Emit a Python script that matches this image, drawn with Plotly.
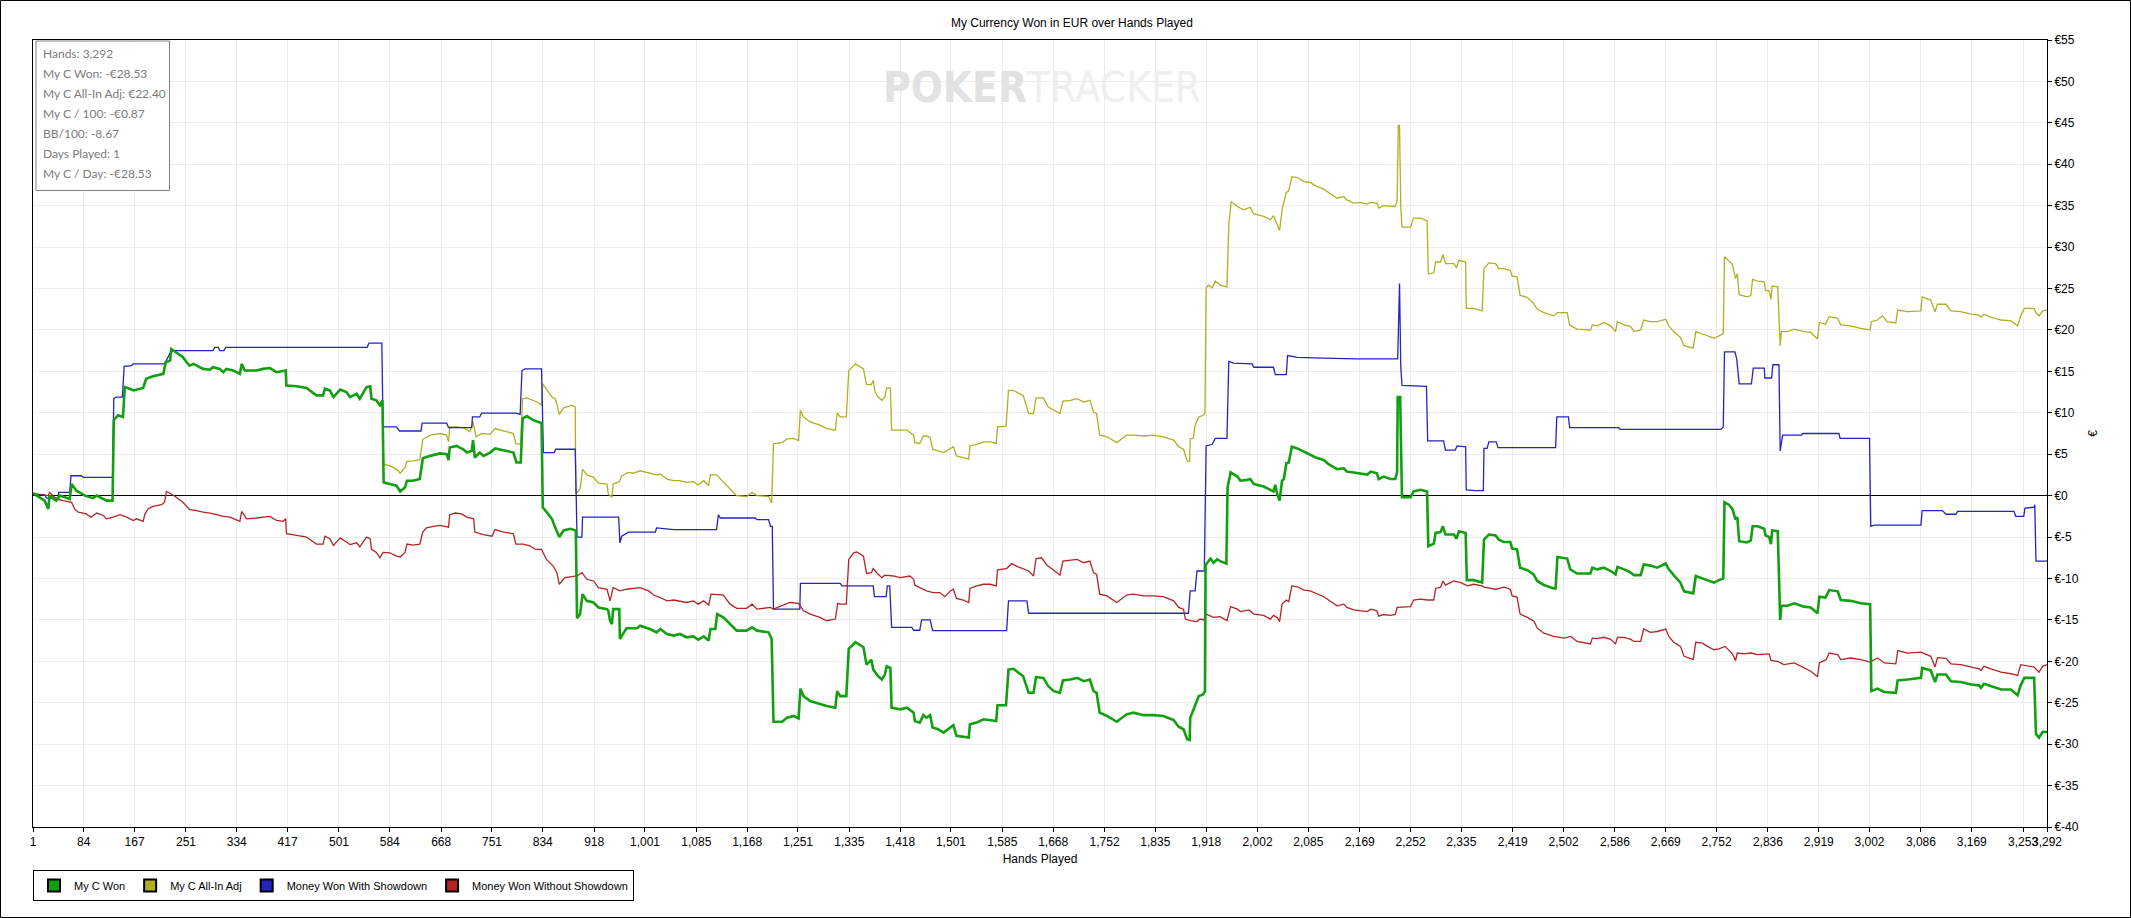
import plotly.graph_objects as go

# values (hand number, running EUR)
won_hands = [1, 20, 26, 28, 39, 45, 61, 64, 72, 86, 99, 105, 121, 131, 133, 140, 148, 151, 159, 165,
             181, 186, 197, 214, 218, 225, 227, 235, 246, 252, 257, 263, 279, 290, 295, 306, 312, 317, 328, 339,
             342, 347, 366, 377, 388, 399, 410, 414, 415, 432, 448, 464, 475, 478, 486, 492, 503, 513, 519, 530,
             535, 546, 552, 554, 562, 568, 572, 574, 584, 595, 601, 609, 612, 622, 633, 638, 650, 666,
             677, 680, 682, 693, 704, 710, 718, 720, 723, 731, 737, 748, 756, 764, 775, 786, 791, 798, 801, 808,
             819, 830, 832, 834, 840, 849, 854, 861, 868, 879, 888, 890, 895, 899, 906, 917, 925, 939, 941, 944,
             947, 949, 959, 960, 971, 988, 993, 1009, 1020, 1026, 1037, 1048, 1058, 1069, 1080, 1088, 1097, 1105,
             1108, 1116, 1119, 1129, 1140, 1151, 1167, 1176, 1184, 1203, 1208, 1211, 1225, 1233, 1244, 1252, 1255,
             1260, 1271, 1287, 1298, 1312, 1315, 1320, 1330, 1334, 1345,
             1358, 1363, 1371, 1374, 1382, 1388, 1393, 1396, 1402, 1404, 1418, 1429, 1440, 1442, 1450, 1456, 1461,
             1467, 1471, 1480, 1489, 1505, 1510, 1521, 1530, 1532, 1543, 1554, 1565, 1575, 1577, 1591, 1595, 1603,
             1619, 1628, 1636, 1640, 1652, 1660, 1669, 1679, 1684, 1696, 1707, 1718, 1728, 1734, 1739, 1744, 1756,
             1772, 1788, 1799, 1816, 1832, 1848, 1865, 1873, 1881, 1887, 1891, 1892, 1900, 1906, 1913, 1916,
             1917, 1925, 1930, 1936, 1941, 1951, 1953, 1958, 1969, 1974, 1985, 1990, 1996, 2012, 2023, 2028, 2031,
             2034, 2038, 2042, 2045, 2049, 2053, 2058, 2067, 2078, 2088, 2097, 2110, 2118, 2127, 2132, 2143, 2148,
             2159, 2170, 2181, 2187, 2197, 2200, 2208, 2219, 2227, 2230, 2231, 2235, 2237, 2238, 2252, 2257, 2268,
             2279, 2281, 2290, 2293, 2301, 2305, 2309, 2323, 2327, 2331, 2342, 2344, 2355, 2369, 2372, 2380, 2391,
             2396, 2404, 2415, 2418, 2426, 2431, 2443, 2453, 2459, 2470, 2486, 2489, 2492, 2508, 2513, 2524, 2546,
             2549, 2557, 2568, 2579, 2587, 2590, 2601, 2612, 2617,
             2628, 2633, 2644, 2655, 2669, 2674, 2682, 2693, 2699, 2707, 2714, 2718, 2729, 2737, 2748, 2756, 2763,
             2765, 2772, 2778, 2783, 2786, 2789, 2802, 2808, 2811, 2819, 2830, 2832, 2838, 2841, 2843, 2852, 2856,
             2858, 2868, 2879, 2895, 2906, 2917, 2920, 2930, 2936, 2950, 2955, 2971, 2988, 3003, 3005, 3015, 3026,
             3045, 3048, 3064, 3086, 3088, 3102, 3109, 3113, 3127, 3135, 3151, 3168, 3181, 3184, 3189, 3200, 3217,
             3233, 3244, 3249, 3255, 3271, 3274, 3279, 3285, 3292]
won_eur = [0.3, -0.6, -1.6, 0, -0.6, 0, -0.4, 1.4, 0.6, 0, -0.3, 0, -0.6, -0.6, 9.1, 9.7, 9.5, 13.1, 12.9, 12.7,
           13.0, 14.1, 14.4, 14.7, 16.1, 16.3, 17.7, 17.3, 16.7, 16.1, 15.7, 15.9, 15.3, 15.2, 15.5, 15.3, 14.9, 15.3, 15.1, 14.7,
           15.9, 15.1, 15.1, 15.3, 15.4, 14.9, 15.1, 15.1, 13.3, 13.2, 13.0, 12.1, 12.1, 12.9, 12.7, 11.9, 12.8, 12.5, 11.9, 12.3,
           11.7, 13.1, 13.2, 11.7, 11.5, 10.9, 11.5, 1.6, 1.4, 1.2, 0.5, 1.0, 1.8, 1.8, 2.0, 4.5, 4.8, 5.1,
           5.0, 4.3, 5.8, 6.0, 5.6, 5.2, 5.4, 6.7, 4.6, 5.2, 4.8, 5.2, 5.7, 5.6, 5.4, 5.2, 4.0, 4.0, 9.3, 9.6,
           9.1, 8.8, 8.8, -1.4, -2.0, -2.8, -3.8, -5.0, -4.2, -4.0, -4.2, -14.8, -14.3, -11.9, -12.7, -12.9, -13.5, -13.7, -13.9, -15.1,
           -15.5, -13.7, -13.7, -17.3, -16.0, -16.0, -15.7, -16.1, -16.5, -16.1, -16.7, -16.9, -16.7, -17.1, -17.0, -17.4, -17.0, -17.5,
           -16.1, -16.1, -14.3, -14.7, -15.5, -16.3, -16.3, -15.9, -16.3, -16.5, -17.3, -27.3, -27.3, -26.8, -26.6, -26.9, -23.3,
           -24.2, -24.8, -25.2, -25.4, -25.6, -23.6, -24.2, -24.2, -18.5, -17.7,
           -18.3, -20.4, -19.8, -21.0, -21.8, -22.2, -21.6, -20.6, -20.8, -25.6, -25.8, -25.6, -26.2, -27.2, -27.4, -26.5, -26.8,
           -26.5, -28.0, -28.2, -28.6, -27.7, -29.0, -29.1, -29.2, -27.6, -27.4, -27.0, -27.1, -27.2, -25.3, -25.3, -21.0, -20.9,
           -21.8, -23.8, -23.8, -21.9, -22.0, -23.0, -23.6, -23.8, -22.3, -22.2, -22.0, -22.4, -22.2, -23.6, -23.8, -26.2, -26.6,
           -27.3, -26.4, -26.2, -26.5, -26.5, -26.6, -27.1, -27.9, -28.2, -29.4, -29.5, -26.8, -25.2, -24.2, -24.0, -23.6,
           -8.4, -7.6, -8.1, -7.7, -7.9, -8.2, 1.0, 2.8, 2.3, 1.8, 1.9, 2.0, 1.4, 1.1, 0.7, 0.5, 1.3,
           0.2, -0.6, 1.8, 2.0, 3.9, 4.0, 5.9, 5.7, 5.3, 4.9, 4.6, 4.3, 3.8, 3.4, 3.2, 3.3, 2.9,
           2.8, 2.7, 2.55, 2.9, 2.7, 2.0, 2.3, 2.0, 2.0, 2.8, 11.9, 11.9, 1.8, -0.2, -0.2, 0.5, 0.7,
           0.5, -6.1, -5.8, -4.5, -4.4, -3.7, -4.7, -4.7, -5.2, -4.3, -4.5, -10.2, -10.2, -10.5, -5.3, -4.7, -4.8,
           -5.3, -5.6, -5.6, -6.4, -6.5, -8.7, -9.0, -9.5, -10.3, -10.8, -11.2, -11.2, -7.4, -7.6, -8.9, -9.4, -9.4,
           -8.7, -8.9, -8.7, -9.1, -9.5, -8.6, -8.9, -9.3, -9.6,
           -9.6, -8.3, -8.45, -8.7, -8.2, -8.9, -9.6, -10.5, -11.55, -11.7, -11.8, -9.7, -10.0, -10.2, -10.5, -10.2, -10.0,
           -0.8, -1.1, -1.6, -2.9, -2.6, -5.5, -5.65, -5.4, -3.7, -3.7, -4.0, -4.8, -5.0, -5.85, -4.2, -4.3, -15.0,
           -13.3, -13.3, -13.0, -13.4, -13.5, -14.2, -12.2, -12.3, -11.4, -11.55, -12.6, -12.7, -13.0, -13.1, -23.6, -23.3, -23.7,
           -23.8, -22.3, -22.2, -22.0, -20.8, -21.1, -22.5, -21.6, -21.6, -22.4, -22.5, -22.8, -22.9, -23.2, -22.7, -23.0, -23.4,
           -23.4, -24.1, -22.9, -22.0, -22.0, -28.8, -29.2, -28.5, -28.53]

# all-in adjusted line sits under "My C Won" until the first all-in (hand ~574)
n_same = won_hands.index(572) + 1
allin_hands = won_hands[:n_same] + [
    574, 584, 595, 601, 609, 612, 622, 633, 638, 650, 666, 677, 680, 682, 693, 704, 715, 720, 725, 734,
    748, 756, 775, 786, 790, 798, 801, 808, 824, 832, 834, 840, 849, 854, 857, 861, 868, 881, 887, 888,
    895, 899, 906, 917, 925, 939, 941, 947, 949, 959, 963, 974, 982, 993, 1009, 1020, 1026, 1037, 1048, 1058,
    1069, 1080, 1088, 1097, 1105, 1108, 1118, 1129, 1140, 1151, 1167, 1176, 1184, 1203, 1208, 1211, 1225, 1233, 1244, 1252,
    1255, 1260, 1271, 1287, 1298, 1312, 1315, 1320, 1330, 1334, 1345, 1358, 1363, 1371, 1374, 1377, 1382, 1388, 1393, 1396,
    1402, 1404, 1418, 1429, 1440, 1442, 1450, 1456, 1461, 1467, 1471, 1480, 1489, 1505, 1510, 1521, 1530, 1532, 1543, 1554,
    1565, 1575, 1577, 1591, 1595, 1603, 1619, 1628, 1636, 1640, 1652, 1660, 1669, 1679, 1684, 1696, 1707, 1718, 1728, 1734,
    1739, 1744, 1756, 1772, 1788, 1799, 1816, 1832, 1848, 1865, 1873, 1881, 1887, 1891, 1892, 1897, 1900, 1906, 1913, 1916,
    1918, 1922, 1928, 1933, 1941, 1952, 1955, 1959, 1969, 1979, 1990, 1996, 2012, 2023, 2028, 2034, 2038, 2042, 2049, 2053,
    2058, 2067, 2078, 2088, 2097, 2110, 2118, 2127, 2132, 2143, 2148, 2159, 2170, 2181, 2187, 2197, 2200, 2208, 2219, 2227,
    2230, 2232, 2234, 2236, 2238, 2252, 2257, 2268, 2279, 2281, 2290, 2293, 2301, 2305, 2309, 2323, 2327, 2331, 2342, 2343,
    2355, 2369, 2372, 2380, 2391, 2396, 2404, 2415, 2418, 2426, 2431, 2443, 2453, 2459, 2470, 2486, 2492, 2508, 2512, 2524,
    2546, 2549, 2557, 2568, 2579, 2587, 2590, 2601, 2612, 2617,
    2628, 2633, 2644, 2655, 2669, 2674, 2682, 2693, 2699, 2707, 2714, 2718, 2729, 2737, 2748, 2756, 2763, 2765, 2772, 2778,
    2783, 2786, 2789, 2802, 2808, 2811, 2819, 2830, 2832, 2838, 2841, 2843, 2852, 2856, 2858, 2868, 2879, 2895, 2906, 2917,
    2920, 2930, 2936, 2950, 2955, 2971, 2988, 3003, 3005, 3015, 3023, 3031, 3045, 3048, 3064, 3086, 3088, 3102, 3109, 3113,
    3127, 3135, 3151, 3168, 3181, 3184, 3189, 3200, 3217, 3233, 3244, 3249, 3255, 3271, 3274, 3279, 3285, 3292]
allin_eur = won_eur[:n_same] + [
    3.8, 3.6, 3.2, 2.7, 3.4, 4.15, 4.2, 4.35, 6.8, 7.3, 7.5, 7.3, 6.5, 8.3, 8.3, 8.2, 7.7, 8.9, 7.1, 7.5,
    7.4, 8.1, 7.7, 7.5, 6.25, 6.25, 11.7, 11.8, 11.3, 10.95, 13.5, 12.9, 11.9, 11.7, 11.1, 9.8, 10.6, 10.9, 10.7, 0.2,
    0.8, 3.2, 2.5, 2.2, 1.5, 1.4, 0.2, -0.2, 1.4, 1.7, 2.4, 2.8, 2.7, 3.0, 2.7, 2.5, 2.6, 2.0, 1.8, 1.8,
    1.6, 1.7, 1.3, 1.8, 1.2, 2.5, 2.5, 1.6, 0.8, 0.0, -0.1, 0.4, 0.0, -0.1, -0.9, 6.25, 6.4, 6.85, 6.9, 6.65,
    10.3, 9.5, 8.9, 8.5, 8.1, 7.9, 10.0, 9.5, 9.5, 15.1, 15.9, 15.3, 13.4, 13.4, 13.9, 12.5, 11.9, 11.5, 11.9, 13.0,
    13.0, 7.9, 7.9, 7.9, 7.3, 6.4, 6.3, 7.2, 7.2, 7.0, 5.6, 5.4, 5.2, 5.9, 4.8, 4.6, 4.4, 6.0, 6.2, 6.5,
    6.5, 6.3, 8.3, 8.35, 12.7, 12.7, 12.1, 9.9, 9.9, 11.8, 11.8, 10.7, 10.3, 9.9, 11.4, 11.5, 11.7, 11.3, 11.5, 10.1,
    9.9, 7.3, 7.1, 6.4, 7.3, 7.3, 7.2, 7.3, 7.1, 6.7, 5.9, 5.6, 4.2, 4.1, 6.85, 6.95, 8.5, 9.5, 9.7, 9.9,
    25.1, 25.4, 25.1, 25.9, 25.4, 25.2, 32.7, 35.5, 34.9, 34.5, 34.8, 34.0, 33.7, 33.3, 33.8, 32.7, 32.0, 34.5, 36.6, 36.8,
    38.5, 38.4, 37.9, 37.8, 37.4, 37.0, 36.6, 36.1, 35.9, 36.1, 35.7, 35.3, 35.4, 35.2, 35.4, 35.3, 34.7, 35.0, 34.9, 34.9,
    35.6, 44.7, 44.7, 35.0, 32.4, 32.4, 33.5, 33.5, 33.2, 26.75, 26.9, 28.2, 28.2, 29.1, 28.0, 28.0, 27.5, 28.4, 28.2, 22.6,
    22.6, 22.3, 27.4, 28.1, 28.0, 27.4, 27.4, 27.2, 26.5, 26.4, 24.2, 23.9, 23.2, 22.5, 22.1, 21.7, 22.1, 22.1, 20.6, 20.1,
    20.0, 20.6, 20.5, 20.9, 20.5, 19.8, 21.0, 20.6, 20.4, 19.8,
    20.0, 21.2, 21.0, 21.0, 21.3, 20.5, 19.8, 19.1, 18.1, 17.9, 17.8, 19.8, 19.55, 19.3, 19.0, 19.3, 19.55, 28.85, 28.4, 27.9,
    26.2, 26.8, 24.25, 24.0, 24.15, 26.1, 25.9, 25.8, 24.8, 24.7, 23.7, 25.3, 25.2, 18.1, 19.8, 19.8, 20.1, 19.8, 19.7, 18.9,
    20.9, 20.7, 21.6, 21.4, 20.6, 20.5, 20.2, 20.0, 21.0, 21.2, 21.7, 21.0, 20.85, 22.4, 22.2, 22.3, 24.0, 23.6, 22.2, 23.1,
    23.1, 22.3, 22.2, 21.9, 21.8, 21.55, 21.9, 21.55, 21.2, 21.1, 20.5, 21.7, 22.6, 22.6, 22.1, 21.7, 22.3, 22.4]

sd_hands = [1, 20, 23, 42, 43, 61, 63, 80, 83, 131, 133, 137, 147, 150, 162, 165, 216, 219, 227, 295,
            298, 304, 306, 313, 316, 547, 550, 571, 573, 595, 600, 635, 637, 677, 680, 718, 719, 731, 734, 790,
            797, 800, 805, 832, 835, 853, 855, 887, 890, 898, 899, 958, 960, 963, 974, 1018, 1020, 1048, 1118, 1121,
            1124, 1181, 1184, 1203, 1206, 1209, 1211, 1254, 1255, 1320, 1323, 1374, 1376, 1395, 1397, 1401, 1404, 1437, 1440, 1450,
            1453, 1467, 1471, 1592, 1595, 1625, 1628, 1889, 1892, 1900, 1903, 1915, 1918, 1928, 1933, 1952, 1955, 1963, 1993, 1996,
            2028, 2031, 2049, 2051, 2067, 2110, 2165, 2231, 2233, 2234, 2236, 2238, 2278, 2280, 2306, 2309, 2325, 2328, 2342, 2343,
            2358, 2371, 2372, 2377, 2380, 2392, 2395, 2489, 2491, 2510, 2512, 2592, 2594, 2759, 2763, 2765, 2782, 2785, 2789, 2809,
            2812, 2830, 2831, 2842, 2844, 2854, 2856, 2860, 2891, 2893, 2952, 2954, 3002, 3004, 3010, 3086, 3088, 3121, 3127, 3143,
            3146, 3238, 3241, 3254, 3256, 3271, 3272, 3274, 3292]
sd_eur = [0.2, 0.1, -0.3, -0.3, 0.4, 0.4, 2.4, 2.4, 2.2, 2.2, 11.7, 11.9, 11.9, 15.6, 15.7, 15.9, 15.9, 16.3, 17.5, 17.5,
          17.9, 17.9, 17.5, 17.5, 17.9, 17.9, 18.4, 18.4, 8.3, 8.3, 7.8, 7.8, 8.75, 8.75, 8.2, 8.2, 9.5, 9.5, 9.96, 9.96,
          9.8, 15.1, 15.3, 15.3, 5.2, 5.2, 5.6, 5.6, -5.0, -5.0, -2.6, -2.6, -5.7, -4.9, -4.4, -4.4, -3.9, -4.1, -4.1, -2.3,
          -2.7, -2.7, -2.9, -2.9, -3.7, -3.7, -13.7, -13.7, -10.6, -10.6, -10.9, -10.9, -12.2, -12.2, -10.9, -10.9, -15.9, -15.9, -16.25, -16.25,
          -15.0, -15.0, -16.3, -16.3, -12.7, -12.7, -14.2, -14.2, -11.5, -11.5, -9.1, -9.1, 6.0, 6.2, 6.9, 6.9, 16.2, 16.0, 15.9, 15.5,
          15.5, 14.6, 14.6, 16.9, 16.7, 16.6, 16.5, 16.5, 25.6, 25.6, 15.6, 13.3, 13.2, 6.6, 6.6, 5.5, 5.5, 6.0, 5.9, 0.7,
          0.6, 0.6, 5.7, 5.7, 6.5, 6.5, 5.8, 5.8, 9.5, 9.5, 8.2, 8.2, 8.0, 8.0, 8.3, 17.35, 17.35, 16.5, 13.5, 13.5,
          15.4, 15.4, 14.2, 14.2, 15.8, 15.8, 5.4, 7.3, 7.3, 7.5, 7.5, 6.9, 6.9, -3.7, -3.55, -3.55, -1.8, -1.8, -2.25, -2.25,
          -1.9, -1.9, -2.5, -2.5, -1.5, -1.4, -1.1, -7.9, -7.9]

nsd_hands = [1, 26, 28, 39, 50, 64, 69, 75, 88, 96, 105, 116, 121, 132, 143, 154, 165, 170, 181, 184,
             189, 197, 211, 216, 219, 227, 235, 246, 257, 268, 279, 290, 301, 312, 323, 334, 339, 342, 350, 366,
             377, 388, 399, 410, 414, 415, 432, 448, 464, 475, 478, 486, 492, 503, 513, 519, 530, 535, 546, 552,
             554, 562, 568, 573, 584, 595, 601, 609, 612, 622, 633, 638, 644, 655, 666, 677, 680, 682, 691, 701,
             710, 721, 723, 737, 751, 756, 770, 786, 790, 802, 813, 821, 832, 840, 851, 857, 861, 870, 881, 890,
             898, 906, 917, 925, 939, 944, 949, 960, 971, 982, 993, 1007, 1015, 1026, 1037, 1048, 1058, 1069, 1080, 1088,
             1097, 1105, 1109, 1129, 1140, 1151, 1167, 1176, 1184, 1206, 1211, 1222, 1238, 1252, 1260, 1271, 1287, 1298, 1312, 1316,
             1320, 1330, 1334, 1342, 1347, 1358, 1363, 1371, 1374, 1382, 1388, 1393, 1407, 1418, 1434, 1440, 1442, 1450, 1461, 1472,
             1483, 1491, 1500, 1505, 1510, 1521, 1530, 1532, 1543, 1554, 1565, 1575, 1577, 1592, 1600, 1608, 1619, 1628, 1636, 1640,
             1649, 1658, 1669, 1679, 1684, 1696, 1707, 1718, 1728, 1734, 1739, 1744, 1756, 1772, 1788, 1799, 1816, 1832, 1848, 1865,
             1873, 1881, 1884, 1892, 1903, 1908, 1914, 1918, 1930, 1941, 1952, 1958, 1969, 1974, 1988, 1996, 2012, 2023, 2028, 2034,
             2038, 2042, 2049, 2053, 2058, 2067, 2078, 2088, 2097, 2110, 2118, 2127, 2132, 2143, 2148, 2159, 2170, 2181, 2187, 2197,
             2200, 2208, 2219, 2227, 2230, 2252, 2257, 2268, 2279, 2290, 2293, 2301, 2305, 2309, 2323, 2334, 2345, 2355, 2369, 2372,
             2391, 2405, 2415, 2418, 2426, 2431, 2443, 2454, 2459, 2470, 2486, 2503, 2514, 2524, 2546, 2549, 2557, 2568, 2579, 2587,
             2590, 2601, 2612, 2617, 2628, 2633, 2644, 2655, 2669, 2674, 2682, 2693, 2699, 2707, 2714, 2718, 2729, 2737, 2748, 2756,
             2766, 2778, 2783, 2786, 2797, 2808, 2819, 2838, 2841, 2852, 2862, 2879, 2895, 2906, 2917, 2920, 2931, 2936, 2950, 2955,
             2971, 2988, 3003, 3015, 3026, 3045, 3048, 3064, 3086, 3102, 3109, 3113, 3127, 3135, 3151, 3168, 3181, 3184, 3189, 3200,
             3217, 3233, 3244, 3249, 3271, 3279, 3285, 3292]
nsd_eur = [0.2, 0.0, 0.4, -0.4, -0.6, -0.8, -1.6, -2.0, -2.2, -2.6, -2.1, -2.4, -2.8, -2.6, -2.3, -2.6, -3.0, -2.8, -3.1, -2.2,
           -1.6, -1.3, -1.1, -0.8, 0.5, 0.2, -0.2, -0.8, -1.7, -1.8, -2.0, -2.1, -2.3, -2.5, -2.6, -3.0, -3.1, -1.9, -2.8, -2.7,
           -2.6, -2.5, -3.0, -3.1, -2.8, -4.6, -4.8, -5.0, -5.85, -5.85, -4.9, -5.2, -6.0, -5.1, -5.6, -5.9, -5.7, -6.2, -5.0, -5.2,
           -6.45, -6.85, -7.5, -6.85, -6.9, -7.3, -7.4, -6.85, -5.85, -5.97, -5.85, -4.4, -3.9, -3.7, -3.6, -3.8, -3.8, -2.3, -2.1, -2.2,
           -2.6, -2.8, -4.4, -4.7, -4.9, -4.1, -4.4, -4.6, -5.85, -5.85, -6.05, -6.45, -6.5, -7.7, -8.5, -9.3, -10.7, -9.9, -9.8, -9.7,
           -9.3, -10.1, -10.3, -11.1, -11.3, -12.7, -11.1, -11.5, -11.3, -11.2, -11.1, -11.5, -12.0, -12.3, -12.7, -12.6, -12.7, -12.9, -12.7, -13.1,
           -12.7, -13.2, -11.9, -12.0, -13.1, -13.6, -13.6, -13.1, -13.7, -13.5, -13.7, -13.4, -12.9, -13.0, -13.9, -14.3, -14.7, -15.1, -14.9, -13.0,
           -13.1, -13.1, -7.7, -6.9, -6.8, -7.3, -9.4, -9.3, -8.8, -9.5, -9.9, -9.6, -9.7, -9.9, -9.7, -10.1, -10.8, -11.1, -11.5, -11.7,
           -11.7, -12.2, -11.5, -11.3, -12.4, -12.6, -12.9, -11.2, -10.9, -10.7, -10.7, -10.9, -8.95, -8.8, -8.2, -8.5, -8.8, -9.1, -9.7, -7.6,
           -7.5, -8.4, -9.0, -9.6, -7.9, -7.8, -7.7, -8.1, -7.9, -9.3, -9.5, -11.9, -12.1, -12.9, -12.0, -11.9, -12.1, -12.1, -12.2, -12.7,
           -13.5, -13.7, -14.9, -15.1, -15.2, -14.9, -15.0, -14.3, -14.7, -14.6, -15.1, -13.4, -13.7, -14.0, -13.8, -14.3, -14.45, -14.9, -14.45, -14.7,
           -15.2, -13.1, -12.6, -12.8, -10.9, -11.0, -11.4, -11.5, -11.8, -12.2, -12.6, -13.0, -13.3, -13.1, -13.5, -13.8, -13.9, -14.0, -13.7, -13.9,
           -14.55, -14.35, -14.45, -14.35, -13.5, -13.4, -12.6, -12.5, -12.6, -12.6, -11.2, -11.05, -10.3, -10.8, -10.3, -10.5, -10.9, -10.7, -10.9, -11.05,
           -11.3, -11.05, -11.3, -12.1, -12.25, -14.3, -14.7, -15.2, -16.0, -16.6, -17.0, -17.2, -17.0, -17.6, -17.9, -17.2, -17.25, -17.1, -17.35, -17.9,
           -17.1, -17.1, -17.35, -17.6, -17.6, -16.1, -16.5, -16.4, -16.1, -17.0, -17.7, -18.2, -19.4, -19.65, -19.8, -17.7, -17.8, -18.2, -18.6, -18.5,
           -18.2, -19.1, -19.9, -19.0, -19.1, -19.0, -19.2, -19.1, -19.9, -20.0, -20.4, -20.2, -20.8, -21.2, -21.85, -20.2, -19.8, -19.0, -19.2, -19.8,
           -19.6, -19.8, -20.1, -19.6, -20.2, -20.3, -18.7, -19.0, -18.9, -19.4, -20.7, -19.55, -19.65, -20.3, -20.4, -20.7, -20.9, -21.1, -20.6, -20.9,
           -21.3, -21.5, -21.7, -20.4, -20.7, -21.3, -20.6, -20.4]

x_ticks = [1, 84, 167, 251, 334, 417, 501, 584, 668, 751, 834, 918, 1001, 1085, 1168, 1251, 1335, 1418, 1501, 1585,
           1668, 1752, 1835, 1918, 2002, 2085, 2169, 2252, 2335, 2419, 2502, 2586, 2669, 2752, 2836, 2919, 3002, 3086,
           3169, 3253, 3292]
y_ticks = list(range(-40, 60, 5))

stats = ["Hands: 3,292", "My C Won: -€28.53", "My C All-In Adj: €22.40", "My C / 100: -€0.87",
         "BB/100: -8.67", "Days Played: 1", "My C / Day: -€28.53"]

series = [
    ("My C Won", won_hands, won_eur, "#12a012", 2.6),
    ("My C All-In Adj", allin_hands, allin_eur, "#b0b022", 1.3),
    ("Money Won With Showdown", sd_hands, sd_eur, "#2424c0", 1.3),
    ("Money Won Without Showdown", nsd_hands, nsd_eur, "#b42424", 1.3),
]

W, H = 2131, 918
L, R, T, B = 33, 84, 40, 91
pw, ph = W - L - R, H - T - B


def px_x(p):
    return (p - L) / pw


def px_y(p):
    return (H - B - p) / ph


fig = go.Figure()

# lines, green one drawn last so it sits on top
for name, xs, ys, col, w in [series[1], series[2], series[3], series[0]]:
    fig.add_trace(go.Scatter(x=xs, y=ys, mode="lines", name=name, showlegend=False,
                             line=dict(color=col, width=w), hoverinfo="skip"))

# square legend swatches like the original
for name, xs, ys, col, w in series:
    fig.add_trace(go.Scatter(x=[None], y=[None], mode="markers", name=name,
                             marker=dict(symbol="square", size=10, color=col,
                                         line=dict(color="black", width=1))))

font = "Liberation Sans, Arial, sans-serif"

fig.update_layout(
    width=W, height=H,
    margin=dict(l=L, r=R, t=T, b=B),
    paper_bgcolor="white", plot_bgcolor="white",
    font=dict(family=font, size=12, color="black"),
    title=dict(text="My Currency Won in EUR over Hands Played", x=0.503, xref="container",
               y=1 - 22.7 / H, yanchor="middle", xanchor="center",
               font=dict(family=font, size=12, color="black")),
    showlegend=True,
    legend=dict(orientation="h", x=0, xanchor="left", y=px_y(870), yanchor="top",
                bordercolor="black", borderwidth=1, bgcolor="white",
                font=dict(family=font, size=11), itemsizing="constant", traceorder="normal"),
    xaxis=dict(range=[1, 3292], tickvals=x_ticks, ticktext=[f"{v:,}" for v in x_ticks],
               tickangle=0, showgrid=True, gridcolor="#ececec", gridwidth=1,
               ticks="outside", ticklen=4, tickcolor="black",
               showline=True, linecolor="black", linewidth=1, mirror=True, zeroline=False,
               title=dict(text="Hands Played", standoff=6, font=dict(size=12))),
    yaxis=dict(range=[-40, 55], side="right", tickvals=y_ticks,
               ticktext=[f"€{v}" for v in y_ticks],
               showgrid=True, gridcolor="#ececec", gridwidth=1,
               ticks="outside", ticklen=4, tickcolor="black",
               showline=True, linecolor="black", linewidth=1, mirror=True,
               zeroline=True, zerolinecolor="black", zerolinewidth=1,
               title=dict(text="€", standoff=10, font=dict(size=12))),
)

# stats box in the top left corner
fig.add_shape(type="rect", xref="paper", yref="paper",
              x0=px_x(36), x1=px_x(169.5), y0=px_y(190.5), y1=px_y(41),
              line=dict(color="#808080", width=1), fillcolor="white", layer="above")
for i, s in enumerate(stats):
    fig.add_annotation(xref="paper", yref="paper", x=px_x(41), y=px_y(53.5 + 20 * i),
                       text=s, showarrow=False, xanchor="left", yanchor="middle",
                       font=dict(family="Lato, Open Sans, sans-serif", size=12, color="#7c7c7c"))

# faint PokerTracker watermark
fig.add_annotation(xref="paper", yref="paper", x=px_x(1042), y=px_y(88), showarrow=False,
                   xanchor="center", yanchor="middle",
                   text='<span style="color:#e2e2e2"><b>POKER</b></span><span style="color:#efefef">TRACKER</span>',
                   font=dict(family="Liberation Sans Narrow, DejaVu Sans Condensed, sans-serif", size=42))

# outer frame around the whole image
fig.add_shape(type="rect", xref="paper", yref="paper",
              x0=px_x(0.5), x1=px_x(W - 0.5), y0=px_y(H - 0.5), y1=px_y(0.5),
              line=dict(color="black", width=1), layer="above")

# drop the browser's default 8px page margin so the figure sits at the top-left corner
fig.write_html("out.html", config={"displayModeBar": False},
               post_script="document.body.style.margin='0px';")
